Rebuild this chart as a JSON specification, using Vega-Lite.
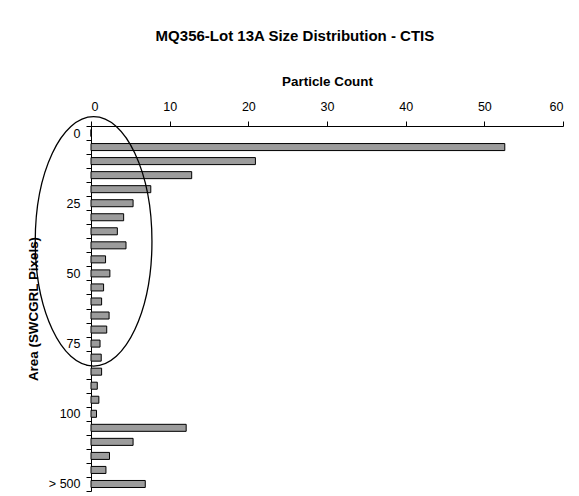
{
  "$schema": "https://vega.github.io/schema/vega-lite/v6.json",
  "width": 472,
  "height": 365,
  "autosize": "none",
  "padding": {"left": 91, "top": 126, "right": 16, "bottom": 5},
  "background": "white",
  "title": {
    "text": "MQ356-Lot 13A Size Distribution - CTIS",
    "font": "Liberation Sans",
    "fontSize": 15,
    "fontWeight": "bold",
    "color": "black",
    "anchor": "middle",
    "frame": "bounds",
    "offset": 30
  },
  "config": {
    "view": {"stroke": null},
    "axis": {
      "domainColor": "black",
      "domainWidth": 1,
      "tickColor": "black",
      "tickSize": 5,
      "tickWidth": 1,
      "grid": false,
      "labelFont": "Liberation Sans",
      "labelFontSize": 12.5,
      "labelColor": "black",
      "titleFont": "Liberation Sans",
      "titleFontSize": 13.4,
      "titleFontWeight": "bold",
      "titleColor": "black"
    }
  },
  "layer": [
    {
      "data": {
        "values": [
          {"area": "0", "count": 0},
          {"area": "5", "count": 52.6},
          {"area": "10", "count": 20.9},
          {"area": "15", "count": 12.8},
          {"area": "20", "count": 7.6},
          {"area": "25", "count": 5.35},
          {"area": "30", "count": 4.15},
          {"area": "35", "count": 3.35},
          {"area": "40", "count": 4.45},
          {"area": "45", "count": 1.85},
          {"area": "50", "count": 2.4},
          {"area": "55", "count": 1.6},
          {"area": "60", "count": 1.35},
          {"area": "65", "count": 2.3},
          {"area": "70", "count": 2.0},
          {"area": "75", "count": 1.15},
          {"area": "80", "count": 1.3},
          {"area": "85", "count": 1.35},
          {"area": "90", "count": 0.8},
          {"area": "95", "count": 1.0},
          {"area": "100", "count": 0.7},
          {"area": "200", "count": 12.1},
          {"area": "300", "count": 5.35},
          {"area": "400", "count": 2.35},
          {"area": "500", "count": 1.9},
          {"area": "> 500", "count": 6.9}
        ]
      },
      "mark": {
        "type": "bar",
        "fill": "#9c9c9c",
        "stroke": "black",
        "strokeWidth": 1,
        "height": {"band": 0.5}
      },
      "encoding": {
        "y": {
          "field": "area",
          "type": "nominal",
          "sort": null,
          "scale": {
            "domain": ["0","5","10","15","20","25","30","35","40","45","50","55","60","65","70","75","80","85","90","95","100","200","300","400","500","> 500"],
            "paddingInner": 0,
            "paddingOuter": 0
          },
          "axis": {
            "title": "Area (SWCGRL Pixels)",
            "tickBand": "extent",
            "labelPadding": 6,
            "titlePadding": 8,
            "labelExpr": "indexof(['0','25','50','75','100','> 500'], datum.value) >= 0 ? datum.value : ''"
          }
        },
        "x": {
          "field": "count",
          "type": "quantitative",
          "scale": {"domain": [0, 60], "nice": false},
          "axis": {
            "orient": "top",
            "title": "Particle Count",
            "values": [0, 10, 20, 30, 40, 50, 60],
            "labelPadding": 8,
            "titlePadding": 12
          }
        }
      }
    },
    {
      "data": {"values": [{"area": "40", "count": 0.33}]},
      "mark": {
        "type": "point",
        "shape": "M 0.468 -0.032 C 0.468 0.520 0.2585 0.968 0 0.968 C -0.2585 0.968 -0.468 0.520 -0.468 -0.032 C -0.468 -0.584 -0.2585 -1.032 0 -1.032 C 0.2585 -1.032 0.468 -0.584 0.468 -0.032 Z",
        "size": 62200,
        "filled": false,
        "stroke": "black",
        "strokeWidth": 1.3,
        "opacity": 1
      },
      "encoding": {
        "x": {"field": "count", "type": "quantitative"},
        "y": {"field": "area", "type": "nominal"}
      }
    }
  ]
}
